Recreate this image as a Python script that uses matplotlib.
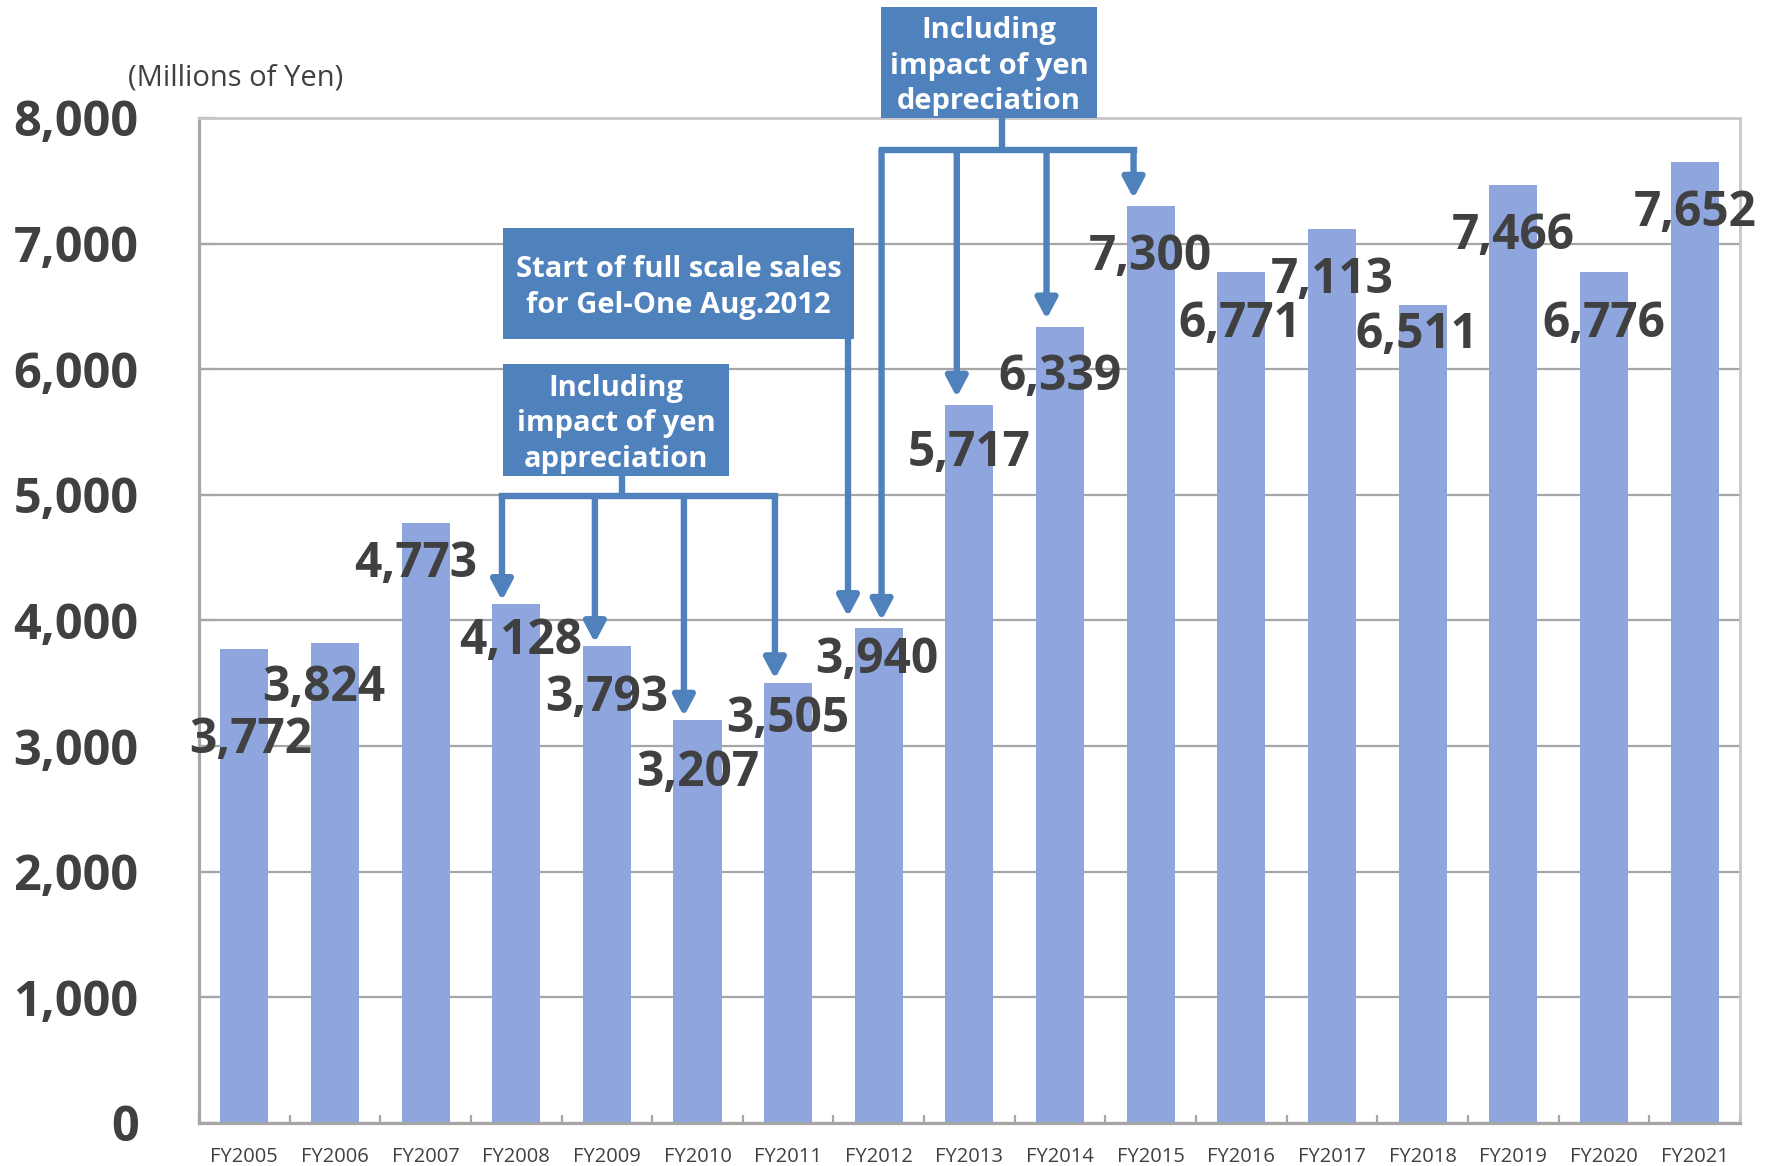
import numpy as np
import matplotlib.pyplot as plt
from matplotlib.patches import Rectangle

plt.rcParams['font.family'] = ['Open Sans', 'DejaVu Sans']

years = ['FY2005', 'FY2006', 'FY2007', 'FY2008', 'FY2009', 'FY2010', 'FY2011', 'FY2012', 'FY2013',
         'FY2014', 'FY2015', 'FY2016', 'FY2017', 'FY2018', 'FY2019', 'FY2020', 'FY2021']
sales = [3772, 3824, 4773, 4128, 3793, 3207, 3505, 3940, 5717, 6339, 7300, 6771, 7113, 6511, 7466, 6776, 7652]
yticks = list(range(0, 8001, 1000))

# where each value label sits: drop below the bar top (yen) and sideways nudge (bars)
label_drop = [691, 330, 291, 258, 379, 389, 257, 222, 352, 369, 375, 379, 371, 207, 374, 384, 377]
label_dx = [0.07, -0.12, -0.11, 0.05, 0, 0, 0, -0.02, 0, 0, 0, -0.02, 0, -0.07, 0, 0, 0]

BAR = '#8EA5DE'
BLUE = '#4F81BD'
TEXT = '#404040'
GRID = '#a6a6a6'
FRAME = '#c8c8c8'

fig = plt.figure(figsize=(17.73, 11.66), dpi=100)
ax = fig.add_axes([0.1122, 0.0369, 0.8692, 0.8619])
x = np.arange(len(years))
ax.bar(x, sales, width=0.53, color=BAR, zorder=2)
ax.set_xlim(-0.5, len(years) - 0.5)
ax.set_ylim(0, 8000)

ax.set_axisbelow(True)
ax.yaxis.grid(True, color=GRID, lw=1.6)
for side in ['left', 'bottom']:
    ax.spines[side].set_color(GRID)
    ax.spines[side].set_linewidth(2.3)
for side in ['top', 'right']:
    ax.spines[side].set_color(FRAME)
    ax.spines[side].set_linewidth(2.0)

ax.set_yticks(yticks)
ax.set_yticklabels([f'{v:,}' for v in yticks], fontsize=35, fontweight='bold', color=TEXT)
ax.tick_params(axis='y', direction='in', length=12, width=1.6, color=GRID, pad=43.5)
ax.set_xticks(x)
ax.set_xticklabels(years, fontsize=14.5, color=TEXT)
ax.tick_params(axis='x', which='major', length=0, pad=17)
ax.set_xticks(np.arange(-0.5, len(years), 1), minor=True)
ax.tick_params(axis='x', which='minor', direction='in', length=6, width=1.6, color=GRID)

for i, v in enumerate(sales):
    ax.text(i + label_dx[i], v - label_drop[i] - 135, f'{v:,}', ha='center', va='baseline',
            fontsize=34.5, fontweight='bold', color=TEXT, zorder=3)

fig.text(128 / 1773, 1 - 78 / 1166, '(Millions of Yen)', ha='left', va='center',
         fontsize=21, color=TEXT)


def box(x0, x1, y0, y1, text):
    ax.add_patch(Rectangle((x0, y0), x1 - x0, y1 - y0, facecolor=BLUE, edgecolor='none',
                           clip_on=False, zorder=5))
    ax.text((x0 + x1) / 2, (y0 + y1) / 2 - 30, text, ha='center', va='center', color='white',
            fontsize=21, fontweight='bold', linespacing=1.3, zorder=6, clip_on=False)


def arrow(xpos, y_from, y_to):
    ax.annotate('', xy=(xpos, y_to), xytext=(xpos, y_from),
                arrowprops=dict(arrowstyle='-|>,head_length=0.6,head_width=0.32', color=BLUE,
                                lw=4.6, shrinkA=0, shrinkB=0, mutation_scale=20),
                zorder=4, annotation_clip=False)


def bracket(stem_x, stem_top, rail_y, targets, gap=30):
    xs = [t for t, _ in targets]
    ax.plot([stem_x, stem_x], [stem_top, rail_y], color=BLUE, lw=4.6, zorder=4,
            solid_capstyle='butt', clip_on=False)
    ax.plot([min(xs), max(xs)], [rail_y, rail_y], color=BLUE, lw=4.6, zorder=4,
            solid_capstyle='projecting', clip_on=False)
    for tx, idx in targets:
        arrow(tx, rail_y, sales[idx] + gap)


# yen appreciation years
box(2.854, 5.347, 5150, 6042, 'Including\nimpact of yen\nappreciation')
bracket(4.17, 5150, 4990, [(2.843, 3), (3.868, 4), (4.850, 5), (5.854, 6)])

# Gel-One launch
box(2.854, 6.726, 6241, 7124, 'Start of full scale sales\nfor Gel-One Aug.2012')
arrow(6.66, 6241, sales[7] + 90)

# yen depreciation years
box(7.023, 9.406, 8000, 8883, 'Including\nimpact of yen\ndepreciation')
bracket(8.36, 8000, 7745, [(7.03, 7), (7.86, 8), (8.85, 9), (9.81, 10)], gap=60)

fig.savefig('out.png', dpi=100)
